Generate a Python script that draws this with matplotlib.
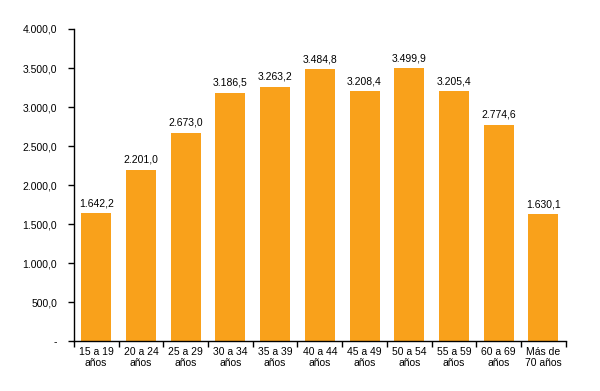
import numpy as np
import matplotlib
matplotlib.use("Agg")
import matplotlib.pyplot as plt

categories = ["15 a 19\naños", "20 a 24\naños", "25 a 29\naños", "30 a 34\naños",
              "35 a 39\naños", "40 a 44\naños", "45 a 49\naños", "50 a 54\naños",
              "55 a 59\naños", "60 a 69\naños", "Más de\n70 años"]
values = [1642.2, 2201.0, 2673.0, 3186.5, 3263.2, 3484.8, 3208.4, 3499.9,
          3205.4, 2774.6, 1630.1]
yticks = [0, 500, 1000, 1500, 2000, 2500, 3000, 3500, 4000]


def es_fmt(v):
    """Spanish number format: 3.484,8"""
    s = f"{v:,.1f}"
    return s.replace(",", "X").replace(".", ",").replace("X", ".")


plt.rcParams['font.family'] = ['Liberation Sans', 'DejaVu Sans']

fig = plt.figure(figsize=(6, 3.91), dpi=100)
ax = fig.add_axes([0.123, 0.1266, 0.82, 0.7994])

x = np.arange(len(values))
ax.bar(x, values, width=0.67, color='#F9A11B', zorder=2)

for xi, v in zip(x, values):
    ax.text(xi, v + 60, es_fmt(v), ha='center', va='bottom', fontsize=7.5)

ax.set_xlim(-0.5, len(values) - 0.5)
ax.set_ylim(0, 4000)
ax.set_yticks(yticks)
ax.set_yticklabels(["-"] + [es_fmt(t) for t in yticks[1:]], fontsize=7.5)

# category labels centred, tick marks between categories
ax.set_xticks(x)
ax.set_xticklabels(categories, fontsize=7.5, linespacing=1.15)
ax.tick_params(axis='x', length=0, pad=4)
ax.set_xticks(np.arange(len(values) + 1) - 0.5, minor=True)
ax.tick_params(axis='x', which='minor', length=4, width=1, direction='out')
ax.tick_params(axis='y', length=4, width=1, direction='out', pad=8)

for side in ['top', 'right']:
    ax.spines[side].set_visible(False)
ax.spines['left'].set_linewidth(1)
ax.spines['bottom'].set_linewidth(1)

fig.savefig("out.png", dpi=100)
